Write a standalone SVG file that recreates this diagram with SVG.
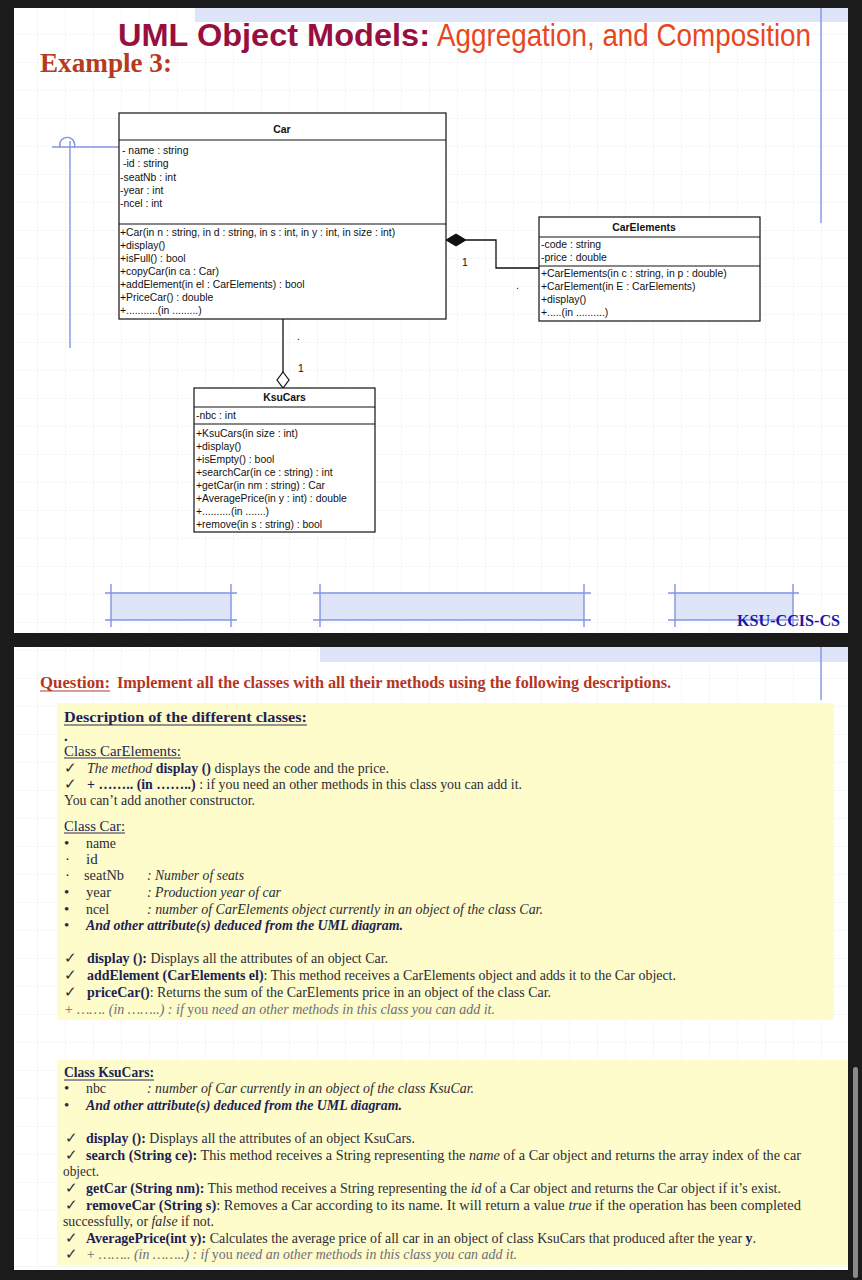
<svg xmlns="http://www.w3.org/2000/svg" width="862" height="1280" viewBox="0 0 862 1280">
<defs>
<pattern id="grid" x="9" y="6" width="28" height="28" patternUnits="userSpaceOnUse">
<path d="M0 0 H28 M0 0 V28" stroke="#eaecf2" stroke-width="1" fill="none" stroke-dasharray="3 1"/>
</pattern>
<style>
.uml-box{fill:#fff;stroke:#111;stroke-width:1.2}
.sep{stroke:#111;stroke-width:1.2}
.uml{font-family:"Liberation Sans",Arial,sans-serif;font-size:10.4px;fill:#111}
.uml-h{font-weight:bold;text-anchor:middle}
.conn{stroke:#111;stroke-width:1.3;fill:none}
.blue{stroke:#8195e3;stroke-width:1.4;fill:none}
.hatch{fill:#dfe5f8}
.body{font-family:"Liberation Serif","Times New Roman",serif;font-size:15px;fill:#2c2c3a}
.b{font-weight:bold;fill:#1d1f55}
.navy{fill:#1d1f55}
.i{font-style:italic}
.bi{font-weight:bold;font-style:italic;fill:#1d1f55}
.gray{fill:#6d6d7c;font-style:italic}
.ul{stroke:#2a2c5a;stroke-width:1}
.yellow{fill:#fdfcca}
</style>
</defs>
<rect width="862" height="1280" fill="#1b1b1b"/>
<rect x="14" y="8" width="834" height="625" fill="#fff"/>
<rect x="14" y="8" width="834" height="625" fill="url(#grid)"/>
<rect x="14" y="647" width="834" height="623" fill="#fff"/>
<rect x="14" y="647" width="834" height="623" fill="url(#grid)"/>
<rect x="853" y="1067" width="5" height="211" rx="2.5" fill="#8a8a8a"/>

<rect class="hatch" x="195" y="8" width="653" height="14"/>
<line class="blue" x1="821" y1="8" x2="821" y2="223"/>
<rect class="hatch" x="320" y="647" width="528" height="15"/>
<line class="blue" x1="821" y1="647" x2="821" y2="700"/>

<text x="118" y="46" font-family="Liberation Sans,Arial,sans-serif" font-weight="bold" font-size="31" fill="#980f3f" textLength="312" lengthAdjust="spacingAndGlyphs">UML Object Models:</text>
<text x="437" y="46" font-family="Liberation Sans,Arial,sans-serif" font-size="31" fill="#e8461e" textLength="374" lengthAdjust="spacingAndGlyphs">Aggregation, and Composition</text>
<text x="40" y="72" font-family="Liberation Serif,Times New Roman,serif" font-weight="bold" font-size="28" fill="#b83a1e" textLength="132" lengthAdjust="spacingAndGlyphs">Example 3:</text>

<g id="decoration">
<line class="blue" x1="52" y1="147" x2="119" y2="147"/>
<line class="blue" x1="70" y1="141" x2="70" y2="348"/>
<path class="blue" d="M60 147 A7.5 7.5 0 1 1 74 148"/>
</g>

<g id="connectors">
<polygon points="446,240 456,234 466,240 456,246" fill="#111" stroke="#111" stroke-width="1"/>
<polyline class="conn" points="466,240 496,240 496,268 539,268"/>
<text class="uml" x="462" y="266">1</text>
<text class="uml" x="516" y="289">.</text>
<line class="conn" x1="283" y1="319" x2="283" y2="372"/>
<polygon points="283,372 289,380 283,388 277,380" fill="#fff" stroke="#111" stroke-width="1.2"/>
<text class="uml" x="297" y="340">.</text>
<text class="uml" x="298" y="372">1</text>
</g>

<g id="node-car">
<rect class="uml-box" x="119" y="113" width="327" height="206"/>
<line class="sep" x1="119" y1="140" x2="446" y2="140"/>
<line class="sep" x1="119" y1="224" x2="446" y2="224"/>
<text class="uml uml-h" x="282" y="133">Car</text>
<text class="uml" x="122" y="154">- name : string</text>
<text class="uml" x="123" y="167">-id : string</text>
<text class="uml" x="120" y="181">-seatNb : int</text>
<text class="uml" x="120" y="194">-year : int</text>
<text class="uml" x="120" y="207">-ncel : int</text>
<text class="uml" x="120" y="236">+Car(in n : string, in d : string, in s : int, in y : int, in size : int)</text>
<text class="uml" x="120" y="249">+display()</text>
<text class="uml" x="120" y="262">+isFull() : bool</text>
<text class="uml" x="120" y="275">+copyCar(in ca : Car)</text>
<text class="uml" x="120" y="288">+addElement(in el : CarElements) : bool</text>
<text class="uml" x="120" y="301">+PriceCar() : double</text>
<text class="uml" x="120" y="314">+...........(in .........)</text>
</g>

<g id="node-carelements">
<rect class="uml-box" x="539" y="217" width="221" height="104"/>
<line class="sep" x1="539" y1="237" x2="760" y2="237"/>
<line class="sep" x1="539" y1="266" x2="760" y2="266"/>
<text class="uml uml-h" x="644" y="231">CarElements</text>
<text class="uml" x="541" y="248">-code : string</text>
<text class="uml" x="541" y="261">-price : double</text>
<text class="uml" x="541" y="277">+CarElements(in c : string, in p : double)</text>
<text class="uml" x="541" y="290">+CarElement(in E : CarElements)</text>
<text class="uml" x="541" y="303">+display()</text>
<text class="uml" x="541" y="316">+.....(in ..........)</text>
</g>

<g id="node-ksucars">
<rect class="uml-box" x="194" y="388" width="181" height="144"/>
<line class="sep" x1="194" y1="407" x2="375" y2="407"/>
<line class="sep" x1="194" y1="424" x2="375" y2="424"/>
<text class="uml uml-h" x="284.5" y="401">KsuCars</text>
<text class="uml" x="196" y="419">-nbc : int</text>
<text class="uml" x="196" y="437">+KsuCars(in size : int)</text>
<text class="uml" x="196" y="450">+display()</text>
<text class="uml" x="196" y="463">+isEmpty() : bool</text>
<text class="uml" x="196" y="476">+searchCar(in ce : string) : int</text>
<text class="uml" x="196" y="489">+getCar(in nm : string) : Car</text>
<text class="uml" x="196" y="502">+AveragePrice(in y : int) : double</text>
<text class="uml" x="196" y="515">+..........(in .......)</text>
<text class="uml" x="196" y="528">+remove(in s : string) : bool</text>
</g>

<g id="footer-rects">
<rect class="hatch" x="111" y="593" width="120" height="27"/>
<path class="blue" d="M105 593 H237 M105 620 H237 M111 584 V627 M231 584 V627"/>
<rect class="hatch" x="320" y="593" width="264" height="27"/>
<path class="blue" d="M313 593 H591 M313 620 H591 M320 584 V627 M584 584 V627"/>
<rect class="hatch" x="675" y="593" width="118" height="27"/>
<path class="blue" d="M668 593 H799 M668 620 H799 M675 584 V627 M793 584 V627"/>
</g>
<text x="737" y="626" font-family="Liberation Serif,Times New Roman,serif" font-weight="bold" font-size="17" fill="#1a1aa8" textLength="103" lengthAdjust="spacingAndGlyphs">KSU-CCIS-CS</text>

<text x="40" y="688" font-family="Liberation Serif,Times New Roman,serif" font-weight="bold" font-size="16" fill="#b5361e" textLength="70" lengthAdjust="spacingAndGlyphs">Question:</text>
<line x1="40" y1="691" x2="110" y2="691" stroke="#b5361e" stroke-width="1.2"/>
<text x="117" y="688" font-family="Liberation Serif,Times New Roman,serif" font-weight="bold" font-size="16" fill="#b5361e" textLength="554" lengthAdjust="spacingAndGlyphs">Implement all the classes with all their methods using the following descriptions.</text>

<rect class="yellow" x="57" y="703" width="777" height="317"/>
<text class="body b" x="64" y="722" font-size="16" textLength="243" lengthAdjust="spacingAndGlyphs">Description of the different classes:</text>
<line class="ul" x1="64" y1="725" x2="307" y2="725"/>
<text class="body b" x="64" y="741">.</text>
<text class="body navy" x="64" y="756" textLength="117" lengthAdjust="spacingAndGlyphs">Class CarElements:</text>
<line class="ul" x1="64" y1="758" x2="181" y2="758"/>
<text class="body" x="64" y="773">✓</text>
<text class="body" x="87" y="773" textLength="302" lengthAdjust="spacingAndGlyphs"><tspan class="i">The method</tspan> <tspan class="b">display ()</tspan> displays the code and the price.</text>
<text class="body" x="64" y="789">✓</text>
<text class="body" x="87" y="789" textLength="435" lengthAdjust="spacingAndGlyphs"><tspan class="b">+ …….. (in ……..)</tspan> : if you need an other methods in this class you can add it.</text>
<text class="body" x="64" y="805" textLength="191" lengthAdjust="spacingAndGlyphs">You can’t add another constructor.</text>

<text class="body navy" x="64" y="831" textLength="61" lengthAdjust="spacingAndGlyphs">Class Car:</text>
<line class="ul" x1="64" y1="833" x2="125" y2="833"/>
<text class="body" x="64" y="848">•</text>
<text class="body" x="86" y="848" textLength="30" lengthAdjust="spacingAndGlyphs">name</text>
<text class="body" x="65" y="864">·</text>
<text class="body" x="86" y="864">id</text>
<text class="body" x="65" y="880">·</text>
<text class="body" x="84" y="880" textLength="40" lengthAdjust="spacingAndGlyphs">seatNb</text>
<text class="body i" x="147" y="880" textLength="97" lengthAdjust="spacingAndGlyphs">: Number of seats</text>
<text class="body" x="64" y="897">•</text>
<text class="body" x="86" y="897" textLength="25" lengthAdjust="spacingAndGlyphs">year</text>
<text class="body i" x="147" y="897" textLength="134" lengthAdjust="spacingAndGlyphs">: Production year of car</text>
<text class="body" x="64" y="914">•</text>
<text class="body" x="86" y="914" textLength="23" lengthAdjust="spacingAndGlyphs">ncel</text>
<text class="body i" x="147" y="914" textLength="396" lengthAdjust="spacingAndGlyphs">: number of CarElements object currently in an object of the class Car.</text>
<text class="body" x="64" y="930">•</text>
<text class="body bi" x="86" y="930" textLength="317" lengthAdjust="spacingAndGlyphs">And other attribute(s) deduced from the UML diagram.</text>

<text class="body" x="64" y="963">✓</text>
<text class="body" x="87" y="963" textLength="301" lengthAdjust="spacingAndGlyphs"><tspan class="b">display ():</tspan> Displays all the attributes of an object Car.</text>
<text class="body" x="64" y="980">✓</text>
<text class="body" x="87" y="980" textLength="589" lengthAdjust="spacingAndGlyphs"><tspan class="b">addElement (CarElements el)</tspan>: This method receives a CarElements object and adds it to the Car object.</text>
<text class="body" x="64" y="997">✓</text>
<text class="body" x="87" y="997" textLength="464" lengthAdjust="spacingAndGlyphs"><tspan class="b">priceCar()</tspan>: Returns the sum of the CarElements price in an object of the class Car.</text>
<text class="body gray" x="64" y="1014" textLength="431" lengthAdjust="spacingAndGlyphs">+ ……. (in ……..) : if <tspan font-style="normal">you</tspan> need an other methods in this class you can add it.</text>

<rect class="yellow" x="57" y="1060" width="791" height="205"/>
<text class="body b" x="64" y="1077" textLength="90" lengthAdjust="spacingAndGlyphs">Class KsuCars:</text>
<line class="ul" x1="64" y1="1080" x2="154" y2="1080"/>
<text class="body" x="64" y="1093">•</text>
<text class="body" x="86" y="1093" textLength="20" lengthAdjust="spacingAndGlyphs">nbc</text>
<text class="body i" x="147" y="1093" textLength="327" lengthAdjust="spacingAndGlyphs">: number of Car currently in an object of the class KsuCar.</text>
<text class="body" x="64" y="1110">•</text>
<text class="body bi" x="86" y="1110" textLength="316" lengthAdjust="spacingAndGlyphs">And other attribute(s) deduced from the UML diagram.</text>

<text class="body" x="65" y="1143">✓</text>
<text class="body" x="86" y="1143" textLength="329" lengthAdjust="spacingAndGlyphs"><tspan class="b">display</tspan> <tspan class="b">():</tspan> Displays all the attributes of an object KsuCars.</text>
<text class="body" x="65" y="1160">✓</text>
<text class="body" x="86" y="1160" textLength="715" lengthAdjust="spacingAndGlyphs"><tspan class="b">search (String ce):</tspan> This method receives a String representing the <tspan class="i">name</tspan> of a Car object and returns the array index of the car</text>
<text class="body" x="63" y="1176" textLength="36" lengthAdjust="spacingAndGlyphs">object.</text>
<text class="body" x="65" y="1193">✓</text>
<text class="body" x="86" y="1193" textLength="695" lengthAdjust="spacingAndGlyphs"><tspan class="b">getCar (String nm):</tspan> This method receives a String representing the <tspan class="i">id</tspan> of a Car object and returns the Car object if it’s exist.</text>
<text class="body" x="65" y="1210">✓</text>
<text class="body" x="86" y="1210" textLength="715" lengthAdjust="spacingAndGlyphs"><tspan class="b">removeCar (String s)</tspan>: Removes a Car according to its name. It will return a value <tspan class="i">true</tspan> if the operation has been completed</text>
<text class="body" x="63" y="1226" textLength="151" lengthAdjust="spacingAndGlyphs">successfully, or <tspan class="i">false</tspan> if not.</text>
<text class="body" x="65" y="1243">✓</text>
<text class="body" x="86" y="1243" textLength="670" lengthAdjust="spacingAndGlyphs"><tspan class="b">AveragePrice(int y):</tspan> Calculates the average price of all car in an object of class KsuCars that produced after the year <tspan class="b">y</tspan>.</text>
<text class="body" x="65" y="1259">✓</text>
<text class="body gray" x="86" y="1259" textLength="431" lengthAdjust="spacingAndGlyphs">+ …….. (in ……..) : if <tspan font-style="normal">you</tspan> need an other methods in this class you can add it.</text>
</svg>
